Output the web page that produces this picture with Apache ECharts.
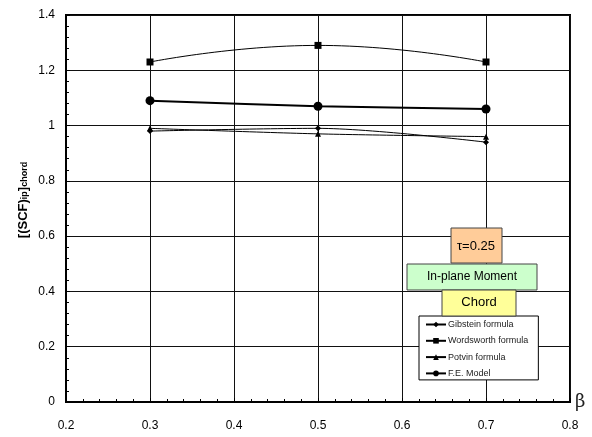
<!DOCTYPE html>
<html>
<head>
<meta charset="utf-8">
<script src="https://cdn.jsdelivr.net/npm/echarts@6/dist/echarts.min.js"></script>
<style>
  html, body { margin: 0; padding: 0; background: #fff; }
  #chart { width: 592px; height: 437px; }
</style>
</head>
<body>
<div id="chart"></div>
<script>
// beta values along the chord
const betaValues = [0.3, 0.5, 0.7];

// in-plane SCF at the chord, one array per method
const gibsteinValues = [0.98, 0.99, 0.94];
const wordsworthValues = [1.23, 1.29, 1.23];
const potvinValues = [0.99, 0.97, 0.96];
const feModelValues = [1.09, 1.07, 1.06];

const seriesNames = ['Gibstein formula', 'Wordsworth formula', 'Potvin formula', 'F.E. Model'];

const pairs = (ys) => betaValues.map((x, i) => [x, ys[i]]);

const chart = echarts.init(document.getElementById('chart'), null, { renderer: 'canvas' });

const font = 'Liberation Sans, Arial, sans-serif';

const option = {
  animation: false,
  backgroundColor: '#ffffff',
  grid: {
    left: 66, right: 22, top: 15, bottom: 35,
    show: true, borderColor: '#000', borderWidth: 2, backgroundColor: 'transparent'
  },
  xAxis: {
    type: 'value', min: 0.2, max: 0.8, interval: 0.1,
    name: 'β', nameLocation: 'end', nameGap: 5,
    nameTextStyle: { fontFamily: 'DejaVu Serif, serif', fontSize: 18, color: '#222', verticalAlign: 'middle' },
    axisLine: { show: true, lineStyle: { color: '#000', width: 2 } },
    axisTick: { show: true, inside: true, length: 4, lineStyle: { color: '#000' } },
    minorTick: { show: true, splitNumber: 5, length: 3, lineStyle: { color: '#000' } },
    splitLine: { show: true, lineStyle: { color: '#111', width: 1 } },
    axisLabel: { margin: 18, fontFamily: font, fontSize: 12, color: '#000',
      formatter: (v) => (Math.round(v * 10) / 10).toString() }
  },
  yAxis: {
    type: 'value', min: 0, max: 1.4, interval: 0.2,
    axisLine: { show: true, lineStyle: { color: '#000', width: 2 } },
    axisTick: { show: true, inside: true, length: 4, lineStyle: { color: '#000' } },
    minorTick: { show: true, splitNumber: 5, length: 3, lineStyle: { color: '#000' } },
    splitLine: { show: true, lineStyle: { color: '#111', width: 1 } },
    axisLabel: { margin: 11, fontFamily: font, fontSize: 12, color: '#000',
      formatter: (v) => (Math.round(v * 10) / 10).toString() }
  },
  legend: {
    orient: 'vertical', left: 419, top: 316,
    data: seriesNames,
    backgroundColor: '#fff', borderColor: '#000', borderWidth: 1,
    padding: [3.5, 10, 1.5, 6], itemGap: 6.3, itemWidth: 20, itemHeight: 7,
    textStyle: { fontFamily: font, fontSize: 9, lineHeight: 10, color: '#222', padding: [0, 0, 0, -3] }
  },
  series: [
    {
      name: seriesNames[0], type: 'line', data: pairs(gibsteinValues), smooth: 0.3,
      symbol: 'diamond', symbolSize: 6,
      lineStyle: { color: '#000', width: 1 }, itemStyle: { color: '#000' }
    },
    {
      name: seriesNames[1], type: 'line', data: pairs(wordsworthValues), smooth: 0.5,
      symbol: 'rect', symbolSize: 7,
      lineStyle: { color: '#000', width: 1 }, itemStyle: { color: '#000' }
    },
    {
      name: seriesNames[2], type: 'line', data: pairs(potvinValues), smooth: 0.3,
      symbol: 'triangle', symbolSize: 6,
      lineStyle: { color: '#000', width: 1 }, itemStyle: { color: '#000' }
    },
    {
      name: seriesNames[3], type: 'line', data: pairs(feModelValues), smooth: 0.3,
      symbol: 'circle', symbolSize: 9,
      lineStyle: { color: '#000', width: 2 }, itemStyle: { color: '#000' }
    }
  ],
  graphic: [
    // y-axis title with subscripts
    {
      type: 'text', x: 23, y: 200, rotation: Math.PI / 2, z: 10,
      style: {
        text: '{b|[(SCF)}{s|ip}{b|]}{s|chord}',
        align: 'center', verticalAlign: 'middle',
        rich: {
          b: { fontFamily: font, fontWeight: 'bold', fontSize: 13, color: '#000', lineHeight: 13, verticalAlign: 'middle' },
          s: { fontFamily: font, fontWeight: 'bold', fontSize: 9, color: '#000', lineHeight: 13, verticalAlign: 'bottom', padding: [3, 0, 0, 0] }
        }
      }
    },
    // annotation boxes
    {
      type: 'rect', shape: { x: 451, y: 228, width: 51, height: 35 }, z: 10,
      style: { fill: '#FFCC99', stroke: '#444', lineWidth: 1 }
    },
    {
      type: 'text', x: 476, y: 246, z: 11,
      style: { text: 'τ=0.25', fontFamily: font, fontSize: 13, fill: '#000', align: 'center', verticalAlign: 'middle' }
    },
    {
      type: 'rect', shape: { x: 407, y: 264, width: 130, height: 26 }, z: 10,
      style: { fill: '#CCFFCC', stroke: '#444', lineWidth: 1 }
    },
    {
      type: 'text', x: 472, y: 277, z: 11,
      style: { text: 'In-plane Moment', fontFamily: font, fontSize: 12, fill: '#000', align: 'center', verticalAlign: 'middle' }
    },
    {
      type: 'rect', shape: { x: 442, y: 290, width: 74, height: 26 }, z: 10,
      style: { fill: '#FFFF99', stroke: '#444', lineWidth: 1 }
    },
    {
      type: 'text', x: 479, y: 302, z: 11,
      style: { text: 'Chord', fontFamily: font, fontSize: 13, fill: '#000', align: 'center', verticalAlign: 'middle' }
    }
  ]
};

chart.setOption(option);
</script>
</body>
</html>
